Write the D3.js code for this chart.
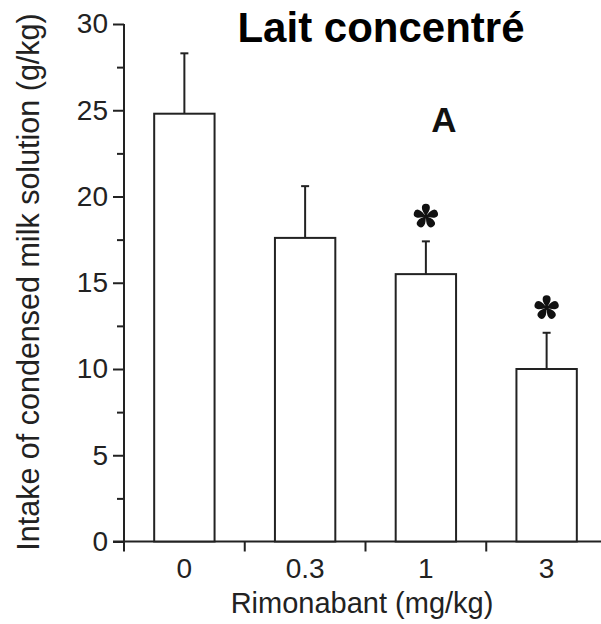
<!DOCTYPE html>
<html>
<head>
<meta charset="utf-8">
<script src="https://cdn.jsdelivr.net/npm/d3@7"></script>
<style>
  body { margin: 0; background: #fff; }
  text { font-family: "Liberation Sans", Arial, sans-serif; }
</style>
</head>
<body>
<div id="chart"></div>
<script>
// data
var doses = ["0", "0.3", "1", "3"];
var intake = [24.8, 17.6, 15.5, 10.0];
var errTop = [28.3, 20.6, 17.4, 12.1];
var signif = [false, false, true, true];
var yMajor = [0, 5, 10, 15, 20, 25, 30];
var yMinor = [2.5, 7.5, 12.5, 17.5, 22.5, 27.5];

var width = 601, height = 624;

var svg = d3.select("#chart").append("svg")
  .attr("width", width)
  .attr("height", height);

var x = d3.scaleBand()
  .domain(doses)
  .range([124, 607])
  .padding(0);

var y = d3.scaleLinear()
  .domain([0, 30])
  .range([541.5, 24]);

var ink = "#222";

// y axis, major ticks
var yAxis = svg.append("g")
  .attr("transform", "translate(124,0)")
  .call(d3.axisLeft(y).tickValues(yMajor).tickSize(11).tickPadding(5).tickFormat(d3.format("d")));
yAxis.select(".domain").remove();
yAxis.selectAll("line").attr("stroke", ink).attr("stroke-width", 2);
yAxis.selectAll("text")
  .style("font-size", "28px")
  .attr("fill", ink)
  .style("font-family", "'Liberation Sans', Arial, sans-serif");

// minor ticks
var yMinorAxis = svg.append("g")
  .attr("transform", "translate(124,0)")
  .call(d3.axisLeft(y).tickValues(yMinor).tickSize(7).tickFormat(""));
yMinorAxis.select(".domain").remove();
yMinorAxis.selectAll("line").attr("stroke", ink).attr("stroke-width", 2);

// axis lines
svg.append("line")
  .attr("x1", 124).attr("x2", 124)
  .attr("y1", y(30)).attr("y2", y(0))
  .attr("stroke", ink).attr("stroke-width", 2);

svg.append("line")
  .attr("x1", 113).attr("x2", width)
  .attr("y1", y(0)).attr("y2", y(0))
  .attr("stroke", ink).attr("stroke-width", 2);

// x tick marks at band edges
svg.selectAll(".xtick")
  .data(doses)
  .enter().append("line")
  .attr("class", "xtick")
  .attr("x1", function(d) { return x(d); })
  .attr("x2", function(d) { return x(d); })
  .attr("y1", y(0))
  .attr("y2", y(0) + 10)
  .attr("stroke", ink).attr("stroke-width", 2);

// x tick labels
var xAxis = svg.append("g")
  .attr("transform", "translate(0," + y(0) + ")")
  .call(d3.axisBottom(x).tickSize(0).tickPadding(17));
xAxis.select(".domain").remove();
xAxis.selectAll("text")
  .style("font-size", "28px")
  .attr("fill", ink)
  .style("font-family", "'Liberation Sans', Arial, sans-serif");

var bw = x.bandwidth() / 2;

// bars
svg.selectAll(".bar")
  .data(doses)
  .enter().append("rect")
  .attr("class", "bar")
  .attr("x", function(d) { return x(d) + x.bandwidth() / 4; })
  .attr("y", function(d, i) { return y(intake[i]); })
  .attr("width", bw)
  .attr("height", function(d, i) { return y(0) - y(intake[i]); })
  .attr("fill", "#fff")
  .attr("stroke", ink)
  .attr("stroke-width", 2);

// error bars
svg.selectAll(".err")
  .data(doses)
  .enter().append("line")
  .attr("class", "err")
  .attr("x1", function(d) { return x(d) + x.bandwidth() / 2; })
  .attr("x2", function(d) { return x(d) + x.bandwidth() / 2; })
  .attr("y1", function(d, i) { return y(intake[i]); })
  .attr("y2", function(d, i) { return y(errTop[i]); })
  .attr("stroke", ink).attr("stroke-width", 2);

svg.selectAll(".cap")
  .data(doses)
  .enter().append("line")
  .attr("class", "cap")
  .attr("x1", function(d) { return x(d) + x.bandwidth() / 2 - 4; })
  .attr("x2", function(d) { return x(d) + x.bandwidth() / 2 + 4; })
  .attr("y1", function(d, i) { return y(errTop[i]); })
  .attr("y2", function(d, i) { return y(errTop[i]); })
  .attr("stroke", ink).attr("stroke-width", 2);

// significance stars: five rounded petals
var petal = "M0,0 C-1.6,-2.5 -4.2,-6 -4,-8.5 A4,4 0 0 1 4,-8.5 C4.2,-6 1.6,-2.5 0,0Z";
var stars = svg.selectAll(".star")
  .data(doses.filter(function(d, i) { return signif[i]; }))
  .enter().append("g")
  .attr("class", "star")
  .attr("transform", function(d) {
    return "translate(" + (x(d) + x.bandwidth() / 2) + "," + (y(errTop[doses.indexOf(d)]) - 25) + ")";
  });
stars.selectAll("path")
  .data([0, 72, 144, 216, 288])
  .enter().append("path")
  .attr("d", petal)
  .attr("transform", function(a) { return "rotate(" + a + ")"; })
  .attr("fill", "#111");
stars.append("circle").attr("r", 2.2).attr("fill", "#111");

// axis titles
svg.append("text")
  .attr("x", 362)
  .attr("y", 613)
  .attr("text-anchor", "middle")
  .style("font-size", "29px")
  .attr("fill", ink)
  .text("Rimonabant (mg/kg)");

svg.append("text")
  .attr("transform", "translate(39,282) rotate(-90)")
  .attr("text-anchor", "middle")
  .style("font-size", "30.5px")
  .attr("fill", ink)
  .text("Intake of condensed milk solution (g/kg)");

// title and panel letter
svg.append("text")
  .attr("x", 381)
  .attr("y", 42)
  .attr("text-anchor", "middle")
  .style("font-size", "42px")
  .style("font-weight", "bold")
  .attr("fill", "#000")
  .text("Lait concentré");

svg.append("text")
  .attr("x", 444)
  .attr("y", 132)
  .attr("text-anchor", "middle")
  .style("font-size", "35px")
  .style("font-weight", "bold")
  .attr("fill", "#111")
  .text("A");
</script>
</body>
</html>
